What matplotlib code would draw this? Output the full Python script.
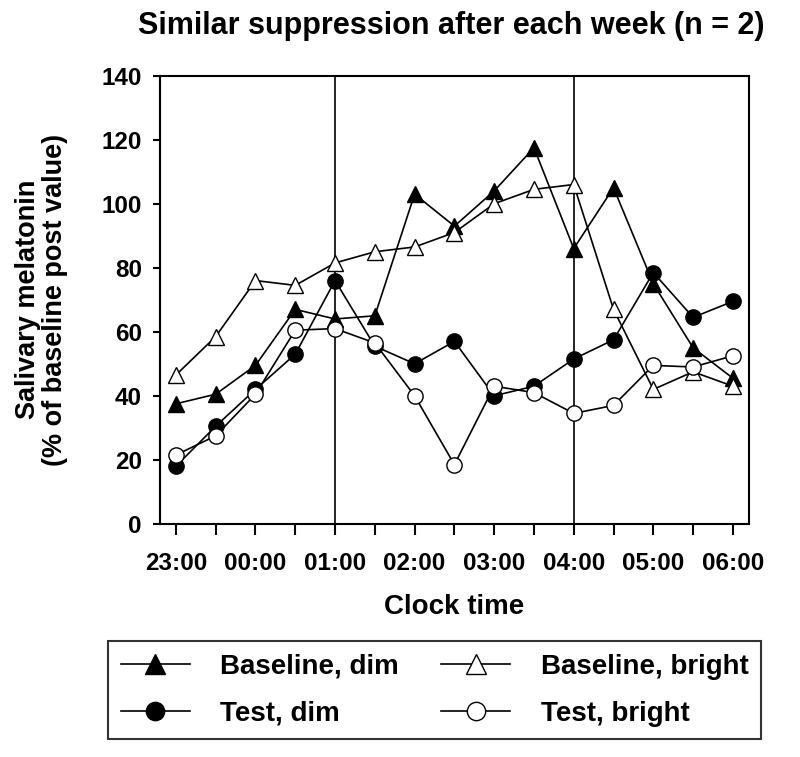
import matplotlib.pyplot as plt

plt.rcParams['font.family'] = ['Liberation Sans', 'DejaVu Sans']
plt.rcParams['font.weight'] = 'bold'

# clock times, every half hour from 23:00 to 06:00
times = list(range(15))
tick_pos = [0, 2, 4, 6, 8, 10, 12, 14]
tick_labels = ["23:00", "00:00", "01:00", "02:00", "03:00", "04:00", "05:00", "06:00"]

# salivary melatonin, % of baseline post value
baseline_dim = [37.5, 40.5, 49.5, 67, 64, 65, 103, 93, 104, 117.5, 86, 105, 75, 55, 45.5]
baseline_bright = [46.5, 58.5, 76, 74.5, 81.5, 85, 86.5, 91, 100, 104.5, 106, 67, 42, 47.5, 43]
test_dim = [18, 30.5, 42, 53, 76, 55.5, 50, 57, 40, 43, 51.5, 57.5, 78.5, 64.5, 69.5]
test_bright = [21.5, 27.5, 40.5, 60.5, 61, 56.5, 40, 18.5, 43, 41, 34.5, 37, 49.5, 49, 52.5]

fig = plt.figure(figsize=(8, 7.57), dpi=100)
ax = fig.add_axes([0.2, 0.308, 0.736, 0.592])

lw = 1.2
ms = 11
l1, = ax.plot(times, baseline_dim, '-^', color='black', mfc='black', mec='black', lw=lw, ms=ms + 1)
l2, = ax.plot(times, baseline_bright, '-^', color='black', mfc='white', mec='black', lw=lw, ms=ms + 1)
l3, = ax.plot(times, test_dim, '-o', color='black', mfc='black', mec='black', lw=lw, ms=ms)
l4, = ax.plot(times, test_bright, '-o', color='black', mfc='white', mec='black', lw=lw, ms=ms)

# lines marking the end of each week
ax.axvline(4, color='black', lw=1.2, zorder=0)
ax.axvline(10, color='black', lw=1.2, zorder=0)

ax.set_xlim(-0.4, 14.4)
ax.set_ylim(0, 140)
ax.set_yticks(range(0, 141, 20))
ax.set_xticks(tick_pos)
ax.set_xticklabels(tick_labels)
ax.set_xticks(times, minor=True)
ax.tick_params(axis='both', which='both', direction='out', width=1.5, labelsize=17.5)
ax.tick_params(axis='x', which='both', length=8, pad=12)
ax.tick_params(axis='y', length=5, pad=8)
for s in ax.spines.values():
    s.set_linewidth(1.5)

ax.set_xlabel("Clock time", fontsize=20, fontweight='bold', labelpad=14)
ax.set_ylabel("Salivary melatonin\n(% of baseline post value)", fontsize=19.5,
              fontweight='bold', labelpad=24, linespacing=1.05)
ax.set_title("Similar suppression after each week (n = 2)", fontsize=22,
             fontweight='bold', pad=30, x=0.494)

leg = fig.legend([l1, l3, l2, l4],
                 ["Baseline, dim", "Test, dim", "Baseline, bright", "Test, bright"],
                 ncol=2, loc='upper left', bbox_to_anchor=(0.135, 0.153),
                 fontsize=20, frameon=True, fancybox=False, markerscale=1.2,
                 edgecolor='black', handlelength=2.5, borderaxespad=0,
                 labelspacing=0.75, columnspacing=1.5, borderpad=0.45,
                 handletextpad=1.1)
leg.get_frame().set_linewidth(1.5)

fig.savefig("out.png", dpi=100)
